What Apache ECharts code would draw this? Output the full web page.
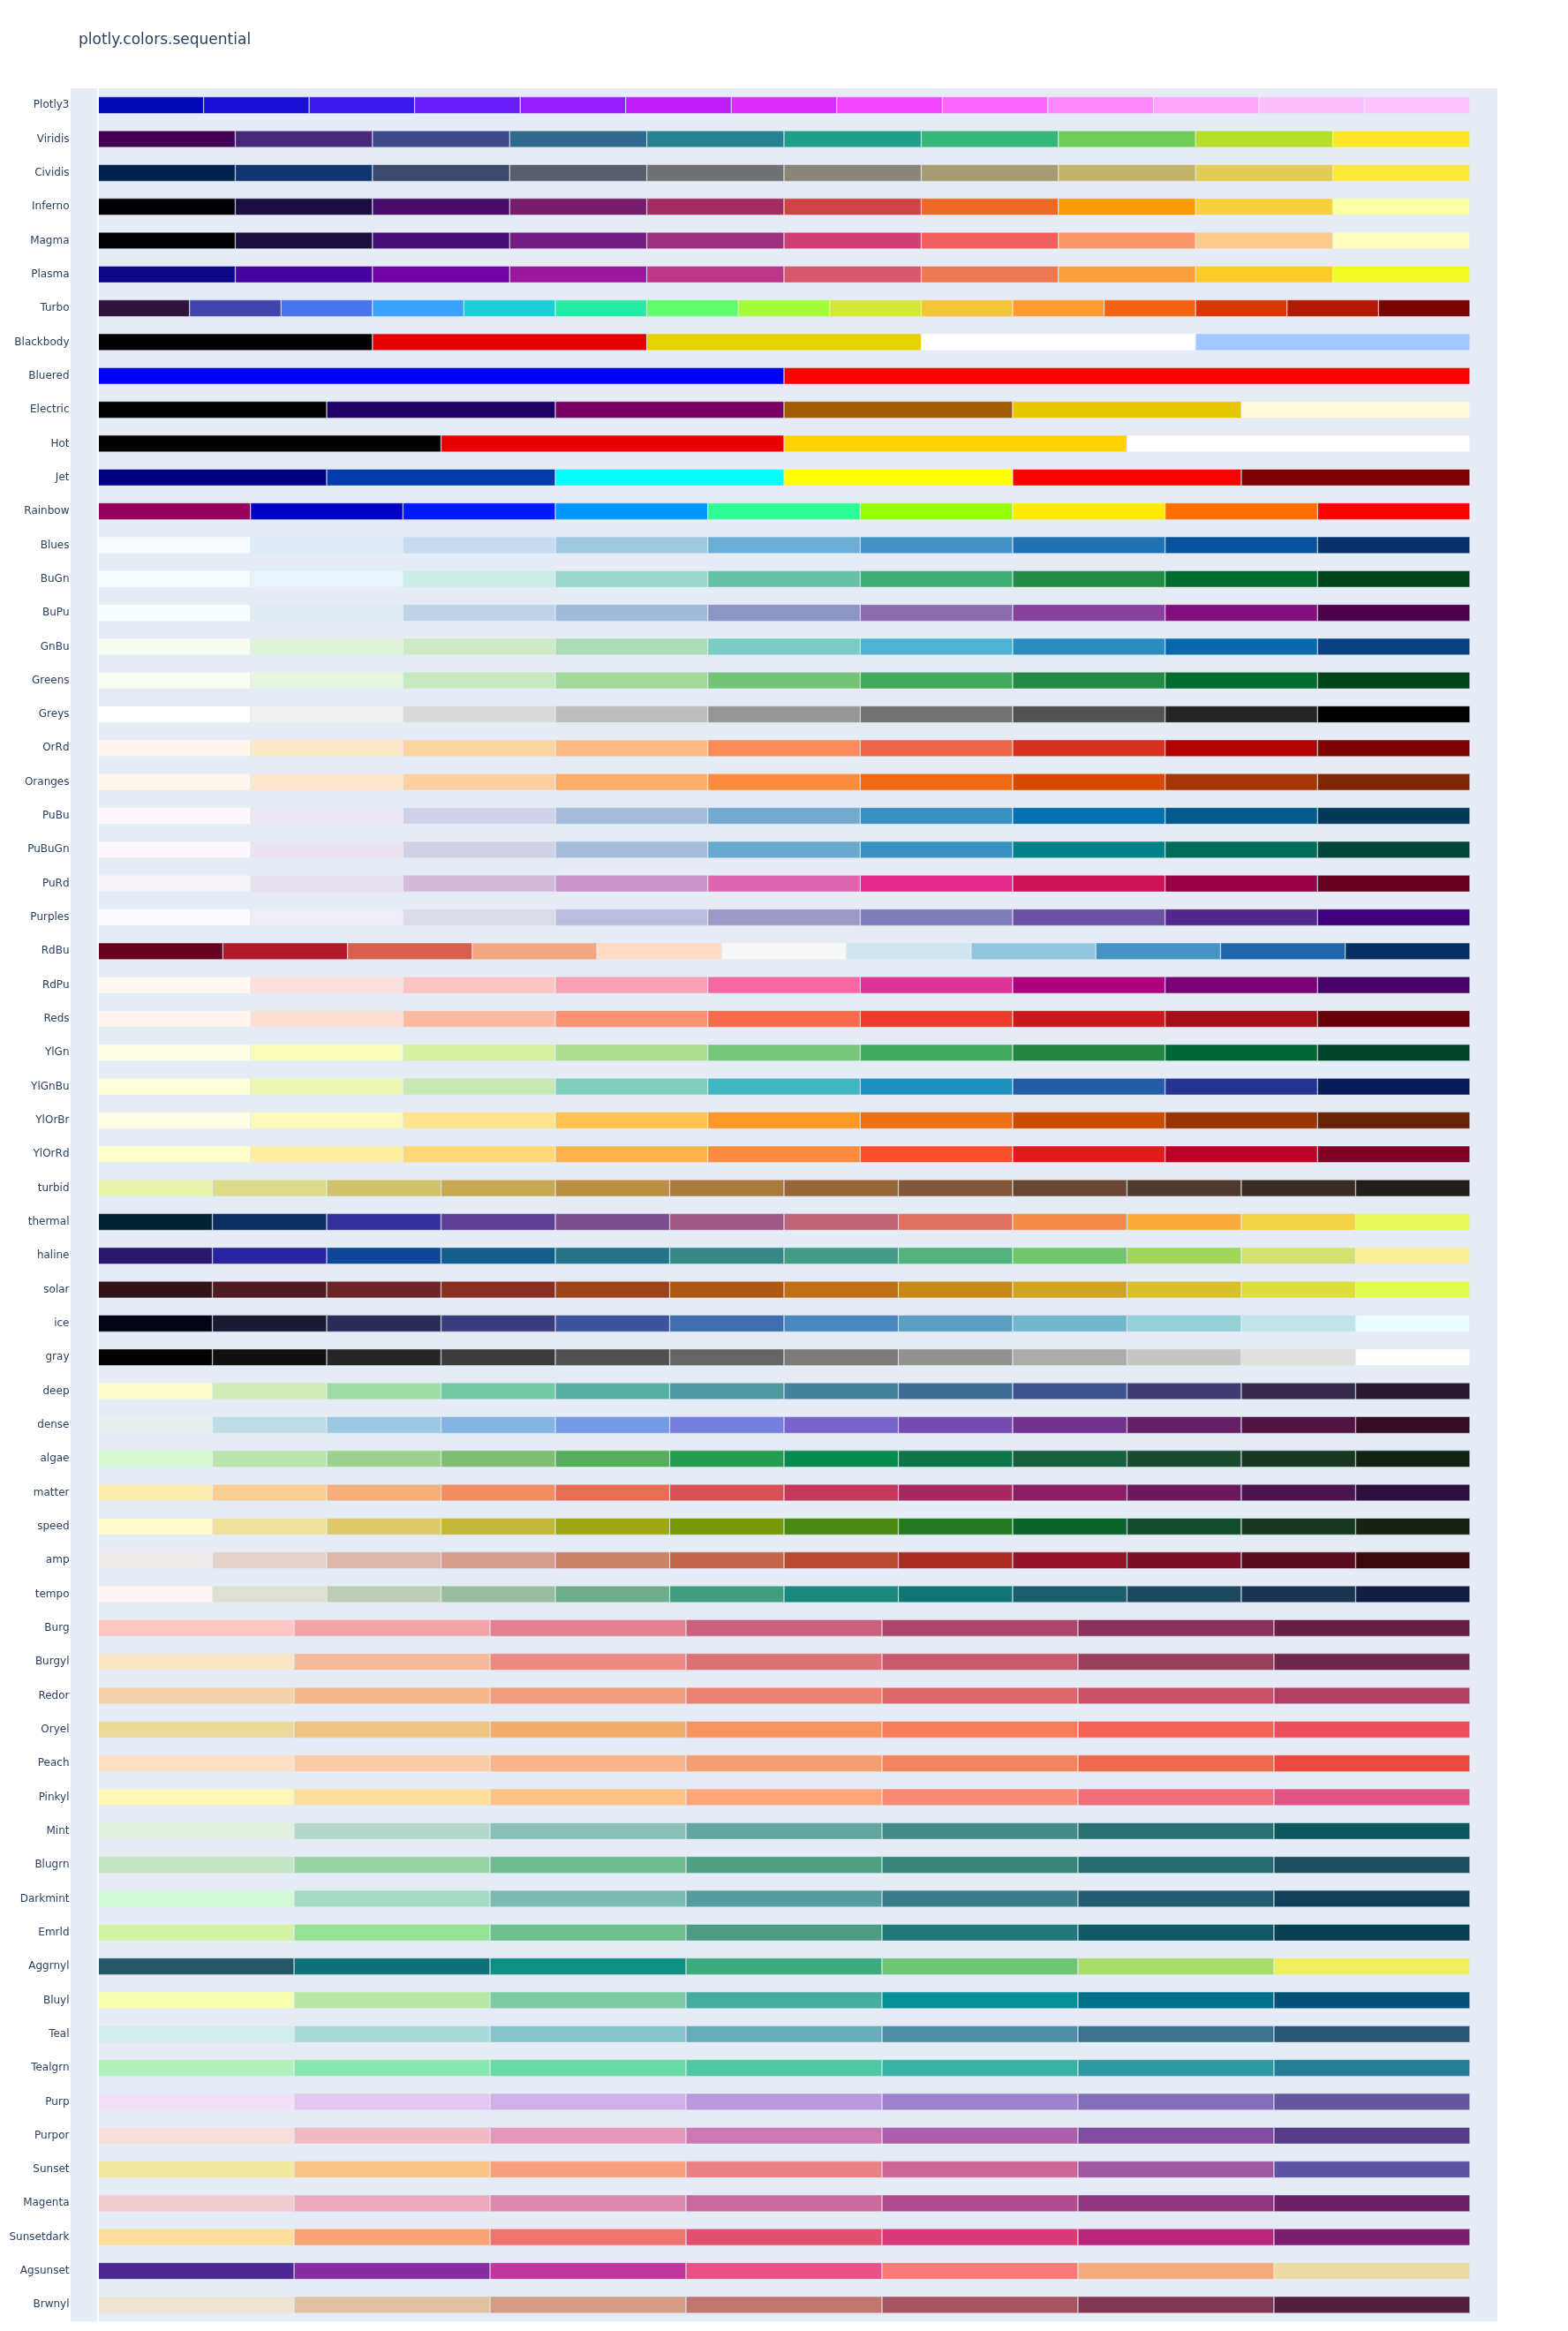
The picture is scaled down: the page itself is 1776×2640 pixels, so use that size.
<!DOCTYPE html>
<html>
<head>
<meta charset="utf-8">
<script src="https://cdn.jsdelivr.net/npm/echarts@6/dist/echarts.min.js"></script>
<style>
html,body{margin:0;padding:0;background:#fff;}
#chart{width:1776px;height:2640px;}
</style>
</head>
<body>
<div id="chart"></div>
<script>
const TITLE = "plotly.colors.sequential";

const Plotly3 = ["#0508b8","#1910d8","#3c19f0","#6b1cfb","#981cfd","#bf1cfd","#dd2bfd","#f246fe","#fc67fd","#fe88fc","#fea5fd","#febefe","#fec3fe"];
const Viridis = ["#440154","#482878","#3e4989","#31688e","#26828e","#1f9e89","#35b779","#6ece58","#b5de2b","#fde725"];
const Cividis = ["#00224e","#123570","#3b496c","#575d6d","#707173","#8a8678","#a59c74","#c3b369","#e1cc55","#fee838"];
const Inferno = ["#000004","#1b0c41","#4a0c6b","#781c6d","#a52c60","#cf4446","#ed6925","#fb9b06","#f7d13d","#fcffa4"];
const Magma = ["#000004","#180f3d","#440f76","#721f81","#9e2f7f","#cd4071","#f1605d","#fd9668","#feca8d","#fcfdbf"];
const Plasma = ["#0d0887","#46039f","#7201a8","#9c179e","#bd3786","#d8576b","#ed7953","#fb9f3a","#fdca26","#f0f921"];
const Turbo = ["#30123b","#4145ab","#4675ed","#39a2fc","#1bcfd4","#24eca6","#61fc6c","#a4fc3b","#d1e834","#f3c63a","#fe9b2d","#f36315","#d93806","#b11901","#7a0402"];
const Blackbody = ["rgb(0,0,0)","rgb(230,0,0)","rgb(230,210,0)","rgb(255,255,255)","rgb(160,200,255)"];
const Bluered = ["rgb(0,0,255)","rgb(255,0,0)"];
const Electric = ["rgb(0,0,0)","rgb(30,0,100)","rgb(120,0,100)","rgb(160,90,0)","rgb(230,200,0)","rgb(255,250,220)"];
const Hot = ["rgb(0,0,0)","rgb(230,0,0)","rgb(255,210,0)","rgb(255,255,255)"];
const Jet = ["rgb(0,0,131)","rgb(0,60,170)","rgb(5,255,255)","rgb(255,255,0)","rgb(250,0,0)","rgb(128,0,0)"];
const Rainbow = ["rgb(150,0,90)","rgb(0,0,200)","rgb(0,25,255)","rgb(0,152,255)","rgb(44,255,150)","rgb(151,255,0)","rgb(255,234,0)","rgb(255,111,0)","rgb(255,0,0)"];
const Blues = ["rgb(247,251,255)","rgb(222,235,247)","rgb(198,219,239)","rgb(158,202,225)","rgb(107,174,214)","rgb(66,146,198)","rgb(33,113,181)","rgb(8,81,156)","rgb(8,48,107)"];
const BuGn = ["rgb(247,252,253)","rgb(229,245,249)","rgb(204,236,230)","rgb(153,216,201)","rgb(102,194,164)","rgb(65,174,118)","rgb(35,139,69)","rgb(0,109,44)","rgb(0,68,27)"];
const BuPu = ["rgb(247,252,253)","rgb(224,236,244)","rgb(191,211,230)","rgb(158,188,218)","rgb(140,150,198)","rgb(140,107,177)","rgb(136,65,157)","rgb(129,15,124)","rgb(77,0,75)"];
const GnBu = ["rgb(247,252,240)","rgb(224,243,219)","rgb(204,235,197)","rgb(168,221,181)","rgb(123,204,196)","rgb(78,179,211)","rgb(43,140,190)","rgb(8,104,172)","rgb(8,64,129)"];
const Greens = ["rgb(247,252,245)","rgb(229,245,224)","rgb(199,233,192)","rgb(161,217,155)","rgb(116,196,118)","rgb(65,171,93)","rgb(35,139,69)","rgb(0,109,44)","rgb(0,68,27)"];
const Greys = ["rgb(255,255,255)","rgb(240,240,240)","rgb(217,217,217)","rgb(189,189,189)","rgb(150,150,150)","rgb(115,115,115)","rgb(82,82,82)","rgb(37,37,37)","rgb(0,0,0)"];
const OrRd = ["rgb(255,247,236)","rgb(254,232,200)","rgb(253,212,158)","rgb(253,187,132)","rgb(252,141,89)","rgb(239,101,72)","rgb(215,48,31)","rgb(179,0,0)","rgb(127,0,0)"];
const Oranges = ["rgb(255,245,235)","rgb(254,230,206)","rgb(253,208,162)","rgb(253,174,107)","rgb(253,141,60)","rgb(241,105,19)","rgb(217,72,1)","rgb(166,54,3)","rgb(127,39,4)"];
const PuBu = ["rgb(255,247,251)","rgb(236,231,242)","rgb(208,209,230)","rgb(166,189,219)","rgb(116,169,207)","rgb(54,144,192)","rgb(5,112,176)","rgb(4,90,141)","rgb(2,56,88)"];
const PuBuGn = ["rgb(255,247,251)","rgb(236,226,240)","rgb(208,209,230)","rgb(166,189,219)","rgb(103,169,207)","rgb(54,144,192)","rgb(2,129,138)","rgb(1,108,89)","rgb(1,70,54)"];
const PuRd = ["rgb(247,244,249)","rgb(231,225,239)","rgb(212,185,218)","rgb(201,148,199)","rgb(223,101,176)","rgb(231,41,138)","rgb(206,18,86)","rgb(152,0,67)","rgb(103,0,31)"];
const Purples = ["rgb(252,251,253)","rgb(239,237,245)","rgb(218,218,235)","rgb(188,189,220)","rgb(158,154,200)","rgb(128,125,186)","rgb(106,81,163)","rgb(84,39,143)","rgb(63,0,125)"];
const RdBu = ["rgb(103,0,31)","rgb(178,24,43)","rgb(214,96,77)","rgb(244,165,130)","rgb(253,219,199)","rgb(247,247,247)","rgb(209,229,240)","rgb(146,197,222)","rgb(67,147,195)","rgb(33,102,172)","rgb(5,48,97)"];
const RdPu = ["rgb(255,247,243)","rgb(253,224,221)","rgb(252,197,192)","rgb(250,159,181)","rgb(247,104,161)","rgb(221,52,151)","rgb(174,1,126)","rgb(122,1,119)","rgb(73,0,106)"];
const Reds = ["rgb(255,245,240)","rgb(254,224,210)","rgb(252,187,161)","rgb(252,146,114)","rgb(251,106,74)","rgb(239,59,44)","rgb(203,24,29)","rgb(165,15,21)","rgb(103,0,13)"];
const YlGn = ["rgb(255,255,229)","rgb(247,252,185)","rgb(217,240,163)","rgb(173,221,142)","rgb(120,198,121)","rgb(65,171,93)","rgb(35,132,67)","rgb(0,104,55)","rgb(0,69,41)"];
const YlGnBu = ["rgb(255,255,217)","rgb(237,248,177)","rgb(199,233,180)","rgb(127,205,187)","rgb(65,182,196)","rgb(29,145,192)","rgb(34,94,168)","rgb(37,52,148)","rgb(8,29,88)"];
const YlOrBr = ["rgb(255,255,229)","rgb(255,247,188)","rgb(254,227,145)","rgb(254,196,79)","rgb(254,153,41)","rgb(236,112,20)","rgb(204,76,2)","rgb(153,52,4)","rgb(102,37,6)"];
const YlOrRd = ["rgb(255,255,204)","rgb(255,237,160)","rgb(254,217,118)","rgb(254,178,76)","rgb(253,141,60)","rgb(252,78,42)","rgb(227,26,28)","rgb(189,0,38)","rgb(128,0,38)"];
const turbid = ["rgb(232,245,171)","rgb(220,219,137)","rgb(209,193,107)","rgb(199,168,83)","rgb(186,143,66)","rgb(170,121,60)","rgb(151,103,58)","rgb(129,87,56)","rgb(104,72,53)","rgb(80,59,46)","rgb(57,45,37)","rgb(34,30,27)"];
const thermal = ["rgb(3,35,51)","rgb(13,48,100)","rgb(53,50,155)","rgb(93,62,153)","rgb(126,77,143)","rgb(158,89,135)","rgb(193,100,121)","rgb(225,113,97)","rgb(246,139,69)","rgb(251,173,60)","rgb(246,211,70)","rgb(231,250,90)"];
const haline = ["rgb(41,24,107)","rgb(42,35,160)","rgb(15,71,153)","rgb(18,95,142)","rgb(38,116,137)","rgb(53,136,136)","rgb(65,157,133)","rgb(81,178,124)","rgb(111,198,107)","rgb(160,214,91)","rgb(212,225,112)","rgb(253,238,153)"];
const solar = ["rgb(51,19,23)","rgb(79,28,33)","rgb(108,36,36)","rgb(135,47,32)","rgb(157,66,25)","rgb(174,88,20)","rgb(188,111,19)","rgb(199,137,22)","rgb(209,164,32)","rgb(217,192,44)","rgb(222,222,59)","rgb(224,253,74)"];
const ice = ["rgb(3,5,18)","rgb(25,25,51)","rgb(44,42,87)","rgb(58,60,125)","rgb(62,83,160)","rgb(62,109,178)","rgb(72,134,187)","rgb(89,159,196)","rgb(114,184,205)","rgb(149,207,216)","rgb(192,229,232)","rgb(234,252,253)"];
const gray = ["rgb(0,0,0)","rgb(16,16,16)","rgb(38,38,38)","rgb(59,59,59)","rgb(81,80,80)","rgb(102,101,101)","rgb(124,123,122)","rgb(146,146,145)","rgb(171,171,170)","rgb(197,197,195)","rgb(224,224,223)","rgb(254,254,253)"];
const deep = ["rgb(253,253,204)","rgb(206,236,179)","rgb(156,219,165)","rgb(111,201,163)","rgb(86,177,163)","rgb(76,153,160)","rgb(68,130,155)","rgb(62,108,150)","rgb(62,82,143)","rgb(64,60,115)","rgb(54,43,77)","rgb(39,26,44)"];
const dense = ["rgb(230,240,240)","rgb(191,221,229)","rgb(156,201,226)","rgb(129,180,227)","rgb(115,154,228)","rgb(117,127,221)","rgb(120,100,202)","rgb(119,74,175)","rgb(113,50,141)","rgb(100,31,104)","rgb(80,20,66)","rgb(54,14,36)"];
const algae = ["rgb(214,249,207)","rgb(186,228,174)","rgb(156,209,143)","rgb(124,191,115)","rgb(85,174,91)","rgb(37,157,81)","rgb(7,138,78)","rgb(13,117,71)","rgb(23,95,61)","rgb(25,75,49)","rgb(23,55,35)","rgb(17,36,20)"];
const matter = ["rgb(253,237,176)","rgb(250,205,145)","rgb(246,173,119)","rgb(240,142,98)","rgb(231,109,84)","rgb(216,80,83)","rgb(195,56,90)","rgb(168,40,96)","rgb(138,29,99)","rgb(107,24,93)","rgb(76,21,80)","rgb(47,15,61)"];
const speed = ["rgb(254,252,205)","rgb(239,225,156)","rgb(221,201,106)","rgb(194,182,59)","rgb(157,167,21)","rgb(116,153,5)","rgb(75,138,20)","rgb(35,121,36)","rgb(11,100,44)","rgb(18,78,43)","rgb(25,56,34)","rgb(23,35,18)"];
const amp = ["rgb(241,236,236)","rgb(230,209,203)","rgb(221,182,170)","rgb(213,156,137)","rgb(205,129,103)","rgb(196,102,73)","rgb(186,74,47)","rgb(172,44,36)","rgb(149,19,39)","rgb(120,14,40)","rgb(89,13,31)","rgb(60,9,17)"];
const tempo = ["rgb(254,245,244)","rgb(222,224,210)","rgb(189,206,181)","rgb(153,189,156)","rgb(110,173,138)","rgb(65,157,129)","rgb(25,137,125)","rgb(18,116,117)","rgb(25,94,106)","rgb(28,72,93)","rgb(25,51,80)","rgb(20,29,67)"];
const Burg = ["rgb(255,198,196)","rgb(244,163,168)","rgb(227,129,145)","rgb(204,96,125)","rgb(173,70,108)","rgb(139,48,88)","rgb(103,32,68)"];
const Burgyl = ["rgb(251,230,197)","rgb(245,186,152)","rgb(238,138,130)","rgb(220,113,118)","rgb(200,88,108)","rgb(156,63,93)","rgb(112,40,74)"];
const Redor = ["rgb(246,210,169)","rgb(245,183,142)","rgb(241,156,124)","rgb(234,129,113)","rgb(221,104,108)","rgb(202,82,104)","rgb(177,63,100)"];
const Oryel = ["rgb(236,218,154)","rgb(239,196,126)","rgb(243,173,106)","rgb(247,148,93)","rgb(249,123,87)","rgb(246,99,86)","rgb(238,77,90)"];
const Peach = ["rgb(253,224,197)","rgb(250,203,166)","rgb(248,181,139)","rgb(245,158,114)","rgb(242,133,93)","rgb(239,106,76)","rgb(235,74,64)"];
const Pinkyl = ["rgb(254,246,181)","rgb(255,221,154)","rgb(255,194,133)","rgb(255,166,121)","rgb(250,138,118)","rgb(241,109,122)","rgb(225,83,131)"];
const Mint = ["rgb(228,241,225)","rgb(180,217,204)","rgb(137,192,182)","rgb(99,166,160)","rgb(68,140,138)","rgb(40,114,116)","rgb(13,88,95)"];
const Blugrn = ["rgb(196,230,195)","rgb(150,210,164)","rgb(109,188,144)","rgb(77,162,132)","rgb(54,135,122)","rgb(38,107,110)","rgb(29,79,96)"];
const Darkmint = ["rgb(210,251,212)","rgb(165,219,194)","rgb(123,188,176)","rgb(85,156,158)","rgb(58,124,137)","rgb(35,93,114)","rgb(18,63,90)"];
const Emrld = ["rgb(211,242,163)","rgb(151,225,150)","rgb(108,192,139)","rgb(76,155,130)","rgb(33,122,121)","rgb(16,89,101)","rgb(7,64,80)"];
const Aggrnyl = ["rgb(36,86,104)","rgb(15,114,121)","rgb(13,143,129)","rgb(57,171,126)","rgb(110,197,116)","rgb(169,220,103)","rgb(237,239,93)"];
const Bluyl = ["rgb(247,254,174)","rgb(183,230,165)","rgb(124,203,162)","rgb(70,174,160)","rgb(8,144,153)","rgb(0,113,139)","rgb(4,82,117)"];
const Teal = ["rgb(209,238,234)","rgb(168,219,217)","rgb(133,196,201)","rgb(104,171,184)","rgb(79,144,166)","rgb(59,115,143)","rgb(42,86,116)"];
const Tealgrn = ["rgb(176,242,188)","rgb(137,232,172)","rgb(103,219,165)","rgb(76,200,163)","rgb(56,178,163)","rgb(44,152,160)","rgb(37,125,152)"];
const Purp = ["rgb(243,224,247)","rgb(228,199,241)","rgb(209,175,232)","rgb(185,152,221)","rgb(159,130,206)","rgb(130,109,186)","rgb(99,88,159)"];
const Purpor = ["rgb(249,221,218)","rgb(242,185,196)","rgb(229,151,185)","rgb(206,120,179)","rgb(173,95,173)","rgb(131,75,160)","rgb(87,59,136)"];
const Sunset = ["rgb(243,231,155)","rgb(250,196,132)","rgb(248,160,126)","rgb(235,127,134)","rgb(206,102,147)","rgb(160,89,160)","rgb(92,83,165)"];
const Magenta = ["rgb(243,203,211)","rgb(234,169,189)","rgb(221,136,172)","rgb(202,105,157)","rgb(177,77,142)","rgb(145,53,125)","rgb(108,33,103)"];
const Sunsetdark = ["rgb(252,222,156)","rgb(250,164,118)","rgb(240,116,110)","rgb(227,79,111)","rgb(220,57,119)","rgb(185,37,122)","rgb(124,29,111)"];
const Agsunset = ["rgb(75,41,145)","rgb(135,44,162)","rgb(192,54,157)","rgb(234,79,136)","rgb(250,120,118)","rgb(246,169,122)","rgb(237,217,163)"];
const Brwnyl = ["rgb(237,229,207)","rgb(224,194,162)","rgb(211,156,131)","rgb(193,118,111)","rgb(166,84,97)","rgb(129,55,83)","rgb(84,31,63)"];

// Category names, top to bottom
const categories = ["Plotly3","Viridis","Cividis","Inferno","Magma","Plasma","Turbo","Blackbody","Bluered","Electric","Hot","Jet","Rainbow","Blues","BuGn","BuPu","GnBu","Greens","Greys","OrRd","Oranges","PuBu","PuBuGn","PuRd","Purples","RdBu","RdPu","Reds","YlGn","YlGnBu","YlOrBr","YlOrRd","turbid","thermal","haline","solar","ice","gray","deep","dense","algae","matter","speed","amp","tempo","Burg","Burgyl","Redor","Oryel","Peach","Pinkyl","Mint","Blugrn","Darkmint","Emrld","Aggrnyl","Bluyl","Teal","Tealgrn","Purp","Purpor","Sunset","Magenta","Sunsetdark","Agsunset","Brwnyl"];
const scales = [Plotly3,Viridis,Cividis,Inferno,Magma,Plasma,Turbo,Blackbody,Bluered,Electric,Hot,Jet,Rainbow,Blues,BuGn,BuPu,GnBu,Greens,Greys,OrRd,Oranges,PuBu,PuBuGn,PuRd,Purples,RdBu,RdPu,Reds,YlGn,YlGnBu,YlOrBr,YlOrRd,turbid,thermal,haline,solar,ice,gray,deep,dense,algae,matter,speed,amp,tempo,Burg,Burgyl,Redor,Oryel,Peach,Pinkyl,Mint,Blugrn,Darkmint,Emrld,Aggrnyl,Bluyl,Teal,Tealgrn,Purp,Purpor,Sunset,Magenta,Sunsetdark,Agsunset,Brwnyl];

const FONT = '"DejaVu Sans", Verdana, sans-serif';
const maxN = Math.max(...scales.map(s => s.length));

const series = [];
for (let i = 0; i < maxN; i++) {
  series.push({
    type: 'bar',
    stack: 'swatch',
    barCategoryGap: '50%',
    z: 2,
    silent: true,
    itemStyle: { borderColor: '#E5ECF6', borderWidth: 0.5 },
    data: scales.map(cols => i < cols.length
      ? { value: 1 / cols.length, itemStyle: { color: cols[i] } }
      : '-')
  });
}
// zero line
series.push({
  type: 'line',
  data: [],
  z: 1,
  silent: true,
  markLine: {
    silent: true,
    symbol: 'none',
    label: { show: false },
    lineStyle: { color: '#ffffff', width: 2, type: 'solid' },
    data: [{ xAxis: 0 }]
  }
});

const chart = echarts.init(document.getElementById('chart'), null, { renderer: 'canvas' });
chart.setOption({
  animation: false,
  backgroundColor: '#ffffff',
  title: {
    text: TITLE,
    left: 84,
    top: 32,
    textStyle: { fontFamily: FONT, fontSize: 17, fontWeight: 'normal', color: '#2a3f5f' }
  },
  grid: {
    left: 80, right: 80, top: 100, bottom: 10.5,
    show: true, backgroundColor: '#E5ECF6', borderWidth: 0,
    containLabel: false
  },
  xAxis: {
    type: 'value',
    min: -0.02,
    max: 1.02,
    axisLine: { show: false },
    axisTick: { show: false },
    axisLabel: { show: false },
    splitLine: { show: false }
  },
  yAxis: {
    type: 'category',
    data: categories,
    inverse: true,
    axisLine: { show: false, onZero: false },
    axisTick: { show: false },
    splitLine: { show: false },
    axisLabel: { margin: 1.5, fontFamily: FONT, fontSize: 12, color: '#2a3f5f' }
  },
  series: series
});
</script>
</body>
</html>
